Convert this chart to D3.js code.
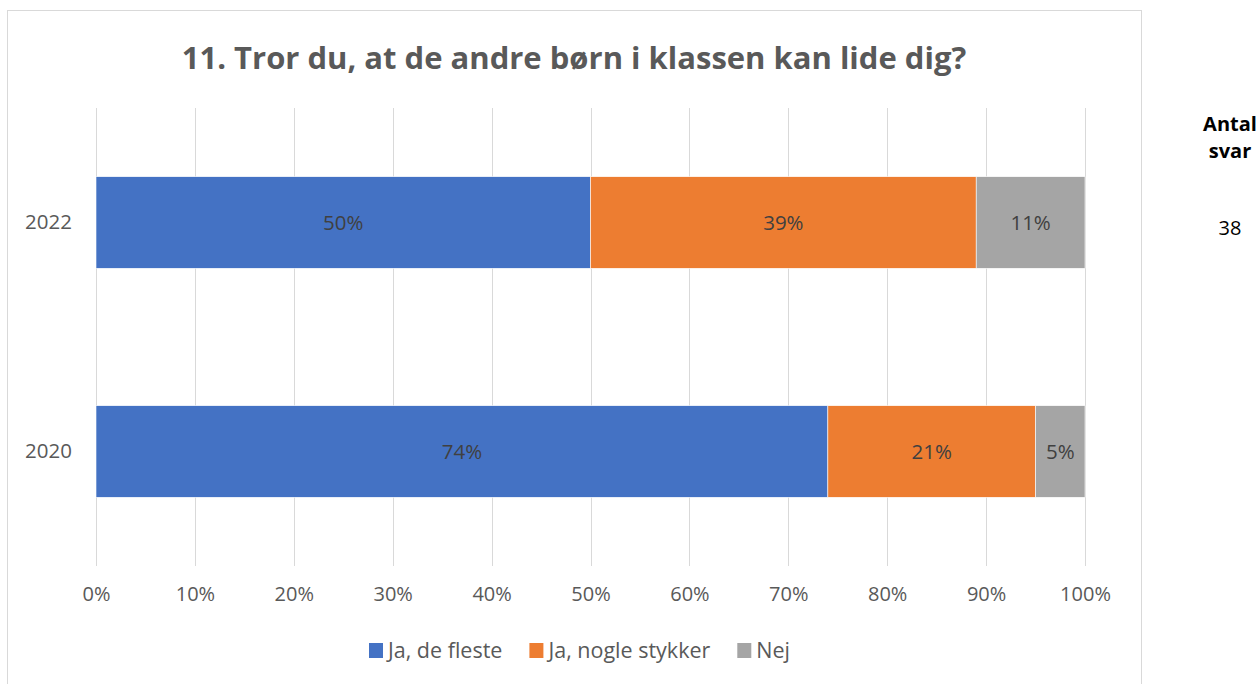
<!DOCTYPE html>
<html>
<head>
<meta charset="utf-8">
<script src="https://cdn.jsdelivr.net/npm/d3@7"></script>
<style>
  body { margin: 0; background: #fff; }
  svg text { font-family: "Open Sans", sans-serif; }
</style>
</head>
<body>
<svg width="1259" height="684"></svg>
<script>
var years = ["2022", "2020"];
var seriesNames = ["Ja, de fleste", "Ja, nogle stykker", "Nej"];
var jaFleste = [50, 74];
var jaNogle = [39, 21];
var nej = [11, 5];
var antalSvar = ["38", ""];
var xTicks = [0, 10, 20, 30, 40, 50, 60, 70, 80, 90, 100];
var colors = ["#4472C4", "#ED7D31", "#A5A5A5"];
var FONT = '"Open Sans", sans-serif';

var svg = d3.select("svg");

// chart frame
svg.append("rect")
  .attr("x", 7.5).attr("y", 10.5)
  .attr("width", 1134).attr("height", 690)
  .attr("fill", "#fff").attr("stroke", "#d9d9d9");

var x = d3.scaleLinear().domain([0, 100]).range([96, 1085]);
var y = d3.scaleBand().domain(years).range([108, 566])
  .paddingInner(0.6).paddingOuter(0.3);

// gridlines
svg.append("g").selectAll("line")
  .data(xTicks).enter().append("line")
  .attr("x1", function(d) { return Math.round(x(d)) + 0.5; })
  .attr("x2", function(d) { return Math.round(x(d)) + 0.5; })
  .attr("y1", 108).attr("y2", 566)
  .attr("stroke", "#d9d9d9").attr("stroke-width", 1);

// x axis tick labels
var xAxis = d3.axisBottom(x).tickValues(xTicks)
  .tickFormat(function(d) { return d + "%"; }).tickSize(0).tickPadding(0);
var gx = svg.append("g").attr("transform", "translate(0,587)").call(xAxis);
gx.select(".domain").remove();
gx.selectAll("text")
  .attr("font-size", 20).attr("fill", "#595959")
  .attr("dy", "0.72em")
  .style("font-family", FONT);

// y axis labels
var yAxis = d3.axisLeft(y).tickSize(0).tickPadding(0);
var gy = svg.append("g").attr("transform", "translate(72,0)").call(yAxis);
gy.select(".domain").remove();
gy.selectAll("text")
  .attr("font-size", 20.5).attr("fill", "#595959")
  .style("font-family", FONT);

// stacked bars
var rows = years.map(function(yr, i) {
  return { year: yr, 0: jaFleste[i], 1: jaNogle[i], 2: nej[i] };
});
var stack = d3.stack().keys([0, 1, 2]);
var layers = stack(rows);

var layer = svg.append("g").selectAll("g")
  .data(layers).enter().append("g")
  .attr("fill", function(d, i) { return colors[i]; });

layer.selectAll("rect")
  .data(function(d) { return d; }).enter().append("rect")
  .attr("x", function(d) { return x(d[0]); })
  .attr("width", function(d) { return x(d[1]) - x(d[0]); })
  .attr("y", function(d) { return y(d.data.year); })
  .attr("height", y.bandwidth())
  .attr("stroke", "#fff").attr("stroke-width", 0.6);

layer.selectAll("text")
  .data(function(d) { return d; }).enter().append("text")
  .attr("x", function(d) { return x((d[0] + d[1]) / 2); })
  .attr("y", function(d) { return y(d.data.year) + y.bandwidth() / 2; })
  .attr("dy", "0.35em")
  .attr("text-anchor", "middle")
  .attr("font-size", 20.5).attr("fill", "#404040")
  .text(function(d) { return (d[1] - d[0]) + "%"; });

// title
svg.append("text")
  .attr("x", 574).attr("y", 69)
  .attr("text-anchor", "middle")
  .attr("font-size", 31).attr("font-weight", "bold").attr("fill", "#595959")
  .text("11. Tror du, at de andre børn i klassen kan lide dig?");

// legend
var legend = svg.append("g");
var lx = 369;
seriesNames.forEach(function(name, i) {
  legend.append("rect")
    .attr("x", lx).attr("y", 643).attr("width", 14).attr("height", 15)
    .attr("fill", colors[i]);
  var t = legend.append("text")
    .attr("x", lx + 19).attr("y", 658)
    .attr("font-size", 21.5).attr("fill", "#595959")
    .text(name);
  lx += 19 + t.node().getComputedTextLength() + 27;
});

// Antal svar column
svg.append("text").attr("x", 1230).attr("y", 131)
  .attr("text-anchor", "middle").attr("font-size", 20).attr("font-weight", "bold")
  .attr("fill", "#000").text("Antal");
svg.append("text").attr("x", 1230).attr("y", 158)
  .attr("text-anchor", "middle").attr("font-size", 20).attr("font-weight", "bold")
  .attr("fill", "#000").text("svar");
svg.append("g").selectAll("text")
  .data(years).enter().append("text")
  .attr("x", 1230)
  .attr("y", function(d) { return y(d) + y.bandwidth() / 2 + 5; })
  .attr("dy", "0.35em")
  .attr("text-anchor", "middle").attr("font-size", 20).attr("fill", "#000")
  .text(function(d, i) { return antalSvar[i]; });
</script>
</body>
</html>
